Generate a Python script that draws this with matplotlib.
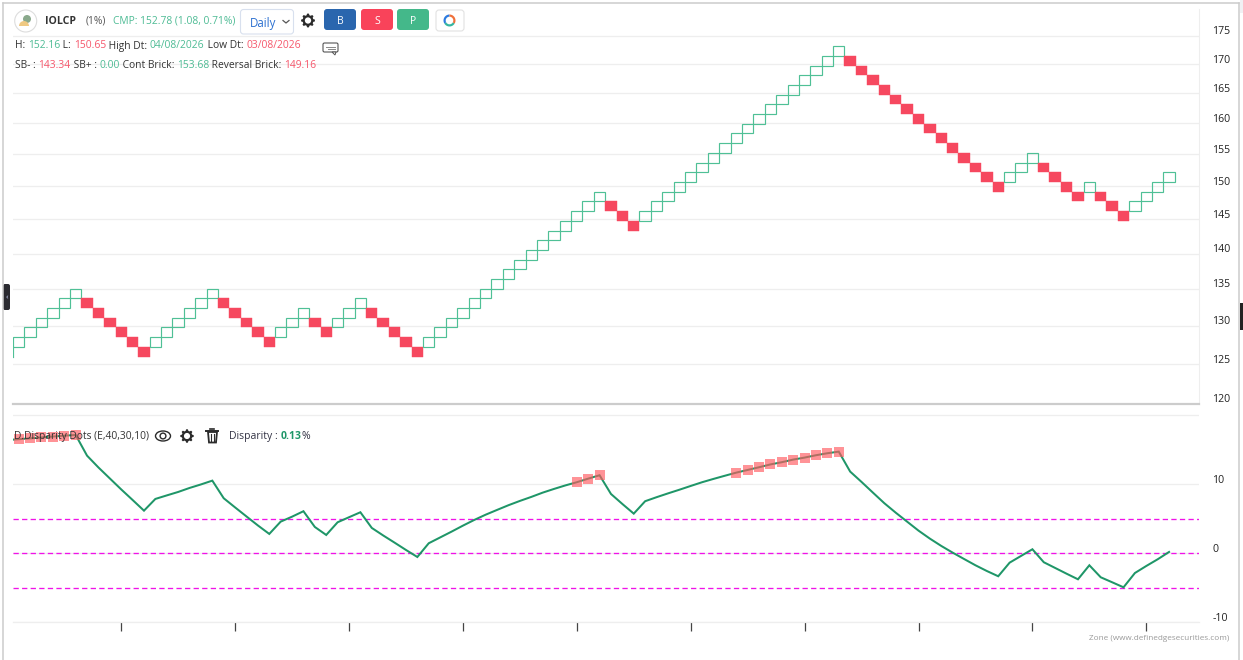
import numpy as np
import matplotlib
matplotlib.use("Agg")
import matplotlib.pyplot as plt
from matplotlib.patches import Rectangle, FancyBboxPatch, Circle, Ellipse, Wedge, Polygon
from matplotlib.transforms import ScaledTranslation
from matplotlib.ticker import NullLocator

plt.rcParams['font.family'] = ['Open Sans', 'DejaVu Sans']

# ---- data ----
# renko level prices (1 % bricks)
level_price = [125.95, 127.21, 128.48, 129.77, 131.06, 132.37, 133.70, 135.03, 136.38, 137.75,
               139.12, 140.52, 141.92, 143.34, 144.77, 146.22, 147.68, 149.16, 150.65, 152.16,
               153.68, 155.22, 156.77, 158.34, 159.92, 161.52, 163.14, 164.77, 166.42, 168.08,
               169.76, 171.46, 173.17]
# lower level of every brick, column by column
brick_low = [1, 2, 3, 4, 5, 6, 5, 4, 3, 2, 1, 0,
             1, 2, 3, 4, 5, 6, 5, 4, 3, 2, 1,
             2, 3, 4, 3, 2, 3, 4, 5, 4, 3, 2, 1, 0,
             1, 2, 3, 4, 5, 6, 7, 8, 9, 10, 11, 12, 13, 14, 15, 16,
             15, 14, 13,
             14, 15, 16, 17, 18, 19, 20, 21, 22, 23, 24, 25, 26, 27, 28, 29, 30, 31,
             30, 29, 28, 27, 26, 25, 24, 23, 22, 21, 20, 19, 18, 17,
             18, 19, 20, 19, 18, 17, 16, 17, 16, 15, 14, 15, 16, 17, 18]
wick_low = 125.95
# disparity per column; the first value belongs to a column left of the visible area
disparity = [16.40, 16.52, 16.65, 16.78, 16.91, 17.03, 17.14, 14.14, 12.43, 10.84, 9.25, 7.72, 6.17,
             7.87, 8.38, 8.88, 9.46, 9.97, 10.52, 7.97, 6.64, 5.33, 4.03, 2.80, 4.58, 5.30, 6.09,
             3.81, 2.65, 4.49, 5.22, 5.94, 3.67, 2.58, 1.54, 0.48, -0.54, 1.45, 2.29, 3.13, 4.00,
             4.83, 5.59, 6.28, 6.96, 7.58, 8.16, 8.78, 9.32, 9.83, 10.29, 10.81, 11.30, 8.59, 7.14,
             5.74, 7.54, 8.12, 8.67, 9.20, 9.75, 10.29, 10.77, 11.23, 11.68, 12.07, 12.46, 12.87,
             13.19, 13.57, 13.86, 14.20, 14.49, 14.72, 11.83, 10.33, 8.78, 7.25, 5.88, 4.58, 3.28,
             2.12, 1.06, 0.09, -0.83, -1.74, -2.57, -3.33, -1.36, -0.39, 0.58, -1.30, -2.13, -2.96,
             -3.77, -1.74, -3.48, -4.20, -4.93, -2.86, -1.84, -0.87, 0.19]
dot_columns = [0, 1, 2, 3, 4, 5, 49, 50, 51, 63, 64, 65, 66, 67, 68, 69, 70, 71, 72]
bands = [5, 0, -5]
price_ticks = [120, 125, 130, 135, 140, 145, 150, 155, 160, 165, 170, 175]
disp_ticks = [-10, 0, 10, 20]
disp_labels = ['-10', '0', '10', '']
x_ticks = [9.5, 19.5, 29.5, 39.5, 49.5, 59.5, 69.5, 79.5, 89.5, 99.5]

GREEN = '#4fc096'
RED = '#f6485f'
LINE = '#1f9668'
GRID = '#eeeeee'
W, H = 1243, 660
TXT = 7.35

fig = plt.figure(figsize=(W / 100, H / 100), dpi=100, facecolor='white')


def px_axes(x0, y0, x1, y1, **kw):
    return fig.add_axes([x0 / W, 1 - y1 / H, (x1 - x0) / W, (y1 - y0) / H], **kw)


XLIM = (0, 1186 / 11.39)
label_shift = ScaledTranslation(0, 5.5 / 100, fig.dpi_scale_trans)

# ---- price panel ----
ax1 = px_axes(13, 8.5, 1199, 403.8)
ax1.set_yscale('log')
ax1.set_ylim(120, 180)
ax1.set_xlim(*XLIM)
ax1.yaxis.set_minor_locator(NullLocator())
ax1.set_yticks(price_ticks)
ax1.set_yticklabels([str(t) for t in price_ticks])
ax1.set_xticks([])
ax1.yaxis.tick_right()
ax1.tick_params(axis='y', which='both', length=0, pad=9.5, labelsize=7.6, labelcolor='#222222')
for lab in ax1.get_yticklabels():
    lab.set_transform(lab.get_transform() + label_shift)
ax1.grid(axis='y', color=GRID, lw=0.9, zorder=0)
for s in ['top', 'left', 'bottom']:
    ax1.spines[s].set_visible(False)
ax1.spines['right'].set_color(GRID)
ax1.spines['right'].set_linewidth(0.8)
ax1.set_axisbelow(True)

prev = None
for i, low in enumerate(brick_low):
    up = prev is None or low > prev
    y0, y1 = level_price[low], level_price[low + 1]
    if up:
        ax1.add_patch(Rectangle((i, y0), 1, y1 - y0, fc='none', ec=GREEN, lw=0.85, zorder=3))
    else:
        ax1.add_patch(Rectangle((i, y0), 1, y1 - y0, fc=RED, ec=RED, lw=0.3, zorder=3))
    prev = low
ax1.plot([0.02, 0.02], [wick_low, level_price[brick_low[0]]], color=GREEN, lw=0.85, zorder=3)

# ---- disparity panel ----
ax2 = px_axes(13, 403.8, 1199, 622.3)
ax2.set_ylim(-10, 21.65)
ax2.set_xlim(*XLIM)
ax2.set_yticks(disp_ticks)
ax2.set_yticklabels(disp_labels)
ax2.yaxis.tick_right()
ax2.tick_params(axis='y', length=0, pad=9.5, labelsize=7.6, labelcolor='#222222')
for lab in ax2.get_yticklabels():
    lab.set_transform(lab.get_transform() + label_shift)
ax2.set_xticks(x_ticks)
ax2.set_xticklabels([])
ax2.tick_params(axis='x', length=6.5, width=0.9, color='#444444')
ax2.grid(axis='y', color=GRID, lw=0.9)
ax2.set_axisbelow(True)
for s in ['left', 'right']:
    ax2.spines[s].set_visible(False)
ax2.spines['bottom'].set_color(GRID)
ax2.spines['bottom'].set_linewidth(0.9)
ax2.spines['top'].set_color('#cccccc')
ax2.spines['top'].set_linewidth(1.6)
for b in bands:
    ax2.axhline(b, color='#f013e8', lw=0.95, ls=(0, (4, 2.5)), zorder=2)
cols = np.arange(len(disparity)) - 1 + 0.5
ax2.plot(cols, disparity, color=LINE, lw=1.45, zorder=4, solid_joinstyle='miter')
ax2.scatter([c + 0.5 for c in dot_columns], [disparity[c + 1] for c in dot_columns],
            marker='s', s=50, color='#ff5a60', alpha=0.65, linewidths=0, zorder=5)

# ---- page chrome, drawn in pixel coordinates ----
ov = fig.add_axes([0, 0, 1, 1], facecolor='none', zorder=10)
ov.set_xlim(0, W)
ov.set_ylim(H, 0)
ov.axis('off')


def segs(x, y, parts, size=TXT):
    r = fig.canvas.get_renderer()
    for txt, col, *rest in parts:
        t = ov.text(x, y, txt, color=col, fontsize=size, va='center', ha='left',
                    fontweight=rest[0] if rest else 'normal')
        x = t.get_window_extent(r).x1 + 0.1
    return x


def gear(cx, cy, r=7):
    ang = np.linspace(0, 2 * np.pi, 96, endpoint=False)
    rad = r * (0.82 + 0.2 * np.clip(2.2 * np.cos(8 * ang), -1, 1) * 0.5)
    ov.add_patch(Polygon(np.c_[cx + rad * np.cos(ang), cy + rad * np.sin(ang)], fc='#2b2b2b', ec='none'))
    ov.add_patch(Circle((cx, cy), r * 0.42, fc='white', ec='none'))


def button(x0, y0, x1, y1, fc, ec='none', pad=3):
    ov.add_patch(FancyBboxPatch((x0 + pad, y0 + pad), x1 - x0 - 2 * pad, y1 - y0 - 2 * pad,
                                boxstyle=f'round,pad={pad},rounding_size={pad}', fc=fc, ec=ec, lw=0.8))


# outer frame
ov.plot([3.5, 3.5], [3, 660], color='#cccccc', lw=1.1)
ov.plot([3, 1239.5], [3.3, 3.3], color='#cccccc', lw=1.1)
ov.plot([1239.5, 1239.5], [3, 660], color='#cccccc', lw=1.1)
ov.add_patch(Rectangle((1240, 0), 3, 13, fc='#f0f0f3', ec='none'))
ov.add_patch(Rectangle((1240, 303), 3, 27, fc='#222222', ec='none'))
ov.add_patch(FancyBboxPatch((4, 285), 5, 24, boxstyle='round,pad=1,rounding_size=2', fc='#2a2a30', ec='none'))
ov.text(6.5, 298, '‹', color='#cfd6ff', fontsize=6, ha='center', va='center')

# logo
ov.add_patch(Circle((25.7, 21), 11, fc='white', ec='#dddddd', lw=0.8))
ov.add_patch(Circle((27, 19), 4, fc='#8aa98c', ec='none'))
ov.add_patch(Wedge((24, 26), 5, 180, 360, fc='#efc982', ec='none'))

# header
ov.text(45, 21, 'IOLCP', fontsize=7.6, fontweight='bold', color='#333333', va='center')
segs(86, 21, [('(1%)', '#555555')])
segs(113, 21, [('CMP: 152.78 (1.08, 0.71%)', '#4dbb94')])
button(240.5, 9.5, 293.5, 34, 'white', ec='#d8e0ee')
ov.text(250, 24, 'Daily', fontsize=8.3, color='#2a6fd0', va='center')
ov.plot([283, 286, 289], [20.5, 23, 20.5], color='#555555', lw=0.9)
gear(308, 20.5, 7.5)
button(324, 9, 356, 30, '#2a66ae')
ov.text(340, 21, 'B', color='white', fontsize=7.5, ha='center', va='center')
button(361, 9, 393, 30, '#f9435a')
ov.text(377, 21, 'S', color='white', fontsize=7.5, ha='center', va='center')
button(397, 9, 429, 30, '#44b88a')
ov.text(413, 21, 'P', color='white', fontsize=7.5, ha='center', va='center')
button(436, 10, 464, 31, 'white', ec='#e2e2e2')
for a, b, c in [(30, 150, '#35b6a0'), (150, 270, '#2c7be0'), (270, 390, '#f0703a')]:
    ov.add_patch(Wedge((449.5, 20.5), 6, a, b, width=2.2, fc=c, ec='none'))

G2 = '#4dbb94'
R2 = '#f6566b'
DK = '#333333'
segs(15, 46, [('H: ', DK), ('152.16', G2), (' L: ', DK), ('150.65', R2), (' High Dt: ', DK),
              ('04/08/2026', G2), (' Low Dt: ', DK), ('03/08/2026', R2)])
segs(15, 65, [('SB- : ', DK), ('143.34', R2), (' SB+ : ', DK), ('0.00', G2), (' Cont Brick: ', DK),
              ('153.68', G2), (' Reversal Brick: ', DK), ('149.16', R2)])
# comment icon
ov.add_patch(FancyBboxPatch((324, 44), 13, 7, boxstyle='round,pad=1,rounding_size=1.5', fc='white', ec='#555555', lw=0.8))
ov.add_patch(Polygon([[332, 52], [336, 52], [335, 55]], fc='white', ec='#555555', lw=0.7))
ov.plot([326, 335], [46.5, 46.5], color='#888888', lw=0.7)
ov.plot([328, 335], [49, 49], color='#888888', lw=0.7)

# indicator title row
segs(14, 436.5, [('D.Disparity Dots (E,40,30,10)', '#333333')])
ov.add_patch(Ellipse((163, 436), 15, 10, fc='white', ec='#2b2b2b', lw=1.0))
ov.add_patch(Circle((163, 436), 2.9, fc='white', ec='#2b2b2b', lw=1.0))
gear(187, 436, 7.3)
ov.add_patch(Polygon([[208, 432], [217, 432], [216, 442.5], [209, 442.5]], fc='white', ec='#2b2b2b', lw=1.3))
ov.plot([206.5, 218.5], [430.5, 430.5], color='#2b2b2b', lw=1.4)
ov.plot([210.5, 214.5], [428.5, 428.5], color='#2b2b2b', lw=1.2)
ov.plot([211, 211], [434, 440.5], color='#2b2b2b', lw=0.8)
ov.plot([214, 214], [434, 440.5], color='#2b2b2b', lw=0.8)
segs(229, 436.5, [('Disparity : ', '#333344'), ('0.13', LINE, 'bold'), ('%', '#333344')], size=7.5)

# watermark
ov.text(1229, 638, 'Zone (www.definedgesecurities.com)', color='#9a9a9a', fontsize=5.9, ha='right', va='center')

fig.savefig('out.png', dpi=100)
